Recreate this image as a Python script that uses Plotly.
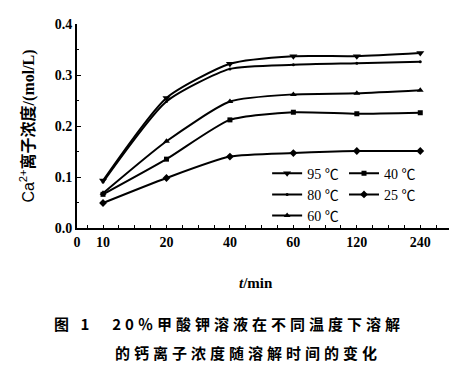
import plotly.graph_objects as go

time_labels = ["10", "20", "40", "60", "120", "240"]
x_pos = list(range(len(time_labels)))

c95 = [0.093, 0.255, 0.322, 0.337, 0.337, 0.343]
c80 = [0.090, 0.248, 0.312, 0.320, 0.323, 0.326]
c60 = [0.068, 0.170, 0.248, 0.262, 0.264, 0.270]
c40 = [0.066, 0.135, 0.212, 0.227, 0.224, 0.226]
c25 = [0.049, 0.098, 0.140, 0.147, 0.151, 0.151]

series = [
    ("95 ℃", c95, "triangle-down", 7, "legend"),
    ("80 ℃", c80, "circle", 3, "legend"),
    ("60 ℃", c60, "triangle-up", 6, "legend"),
    ("40 ℃", c40, "square", 5, "legend2"),
    ("25 ℃", c25, "diamond", 6, "legend2"),
]

serif = "Liberation Serif, Noto Sans CJK SC, serif"
fig = go.Figure()
for name, vals, sym, size, lg in series:
    fig.add_trace(go.Scatter(
        x=x_pos, y=vals, name=name, mode="lines+markers",
        line=dict(color="black", width=2, shape="spline", smoothing=0.6),
        marker=dict(symbol=sym, size=size, color="black"),
        legend=lg,
    ))

# page body has an 8px margin, so the figure is drawn 8px smaller and offset
fig.update_layout(
    width=449, height=365,
    margin=dict(l=69, r=5, t=16, b=145),
    paper_bgcolor="white", plot_bgcolor="white",
    font=dict(family=serif, color="black", size=13),
    legend=dict(x=0.507, y=0.345, xanchor="left", yanchor="top",
                bgcolor="rgba(0,0,0,0)", font=dict(size=14, family=serif),
                itemwidth=30, tracegroupgap=0),
    legend2=dict(x=0.712, y=0.345, xanchor="left", yanchor="top",
                 bgcolor="rgba(0,0,0,0)", font=dict(size=14, family=serif),
                 itemwidth=30, tracegroupgap=0),
)

fig.update_xaxes(
    range=[-0.41, 5.5],
    tickmode="array",
    tickvals=[-0.41] + x_pos,
    ticktext=["0"] + time_labels,
    ticks="inside", ticklen=3, tickwidth=1, tickcolor="black",
    minor=dict(ticks="inside", ticklen=3, dtick=0.25, tick0=0, tickcolor="black"),
    showline=True, linecolor="black", linewidth=2,
    showgrid=False, zeroline=False,
    tickfont=dict(family=serif, size=14, weight="bold"),
)
fig.update_yaxes(
    range=[0, 0.4],
    tickvals=[0, 0.1, 0.2, 0.3, 0.4],
    ticktext=["0.0", "0.1", "0.2", "0.3", "0.4"],
    ticks="inside", ticklen=4, tickwidth=1, tickcolor="black",
    minor=dict(ticks="inside", ticklen=2, dtick=0.05, tickcolor="black"),
    showline=True, linecolor="black", linewidth=2,
    showgrid=False, zeroline=False,
    tickfont=dict(family=serif, size=14, weight="bold"),
    title=dict(text="<span style='font-family:Liberation Sans;font-weight:normal'>Ca<sup>2+</sup></span>离子浓度/(mol/L)",
               font=dict(family=serif, size=16, weight="bold"), standoff=16),
)

fig.add_annotation(
    text="<i>t</i>/min",
    xref="paper", yref="paper", x=0.477, y=-0.27, xanchor="center", yanchor="middle",
    showarrow=False, font=dict(family=serif, size=15, weight="bold"),
)
cap_style = "letter-spacing:4px"
fig.add_annotation(
    text="<span style='%s'>图 1\u300020％甲酸钾溶液在不同温度下溶解</span>" % cap_style,
    xref="paper", yref="paper", x=0.404, y=-0.466, xanchor="center", yanchor="middle",
    showarrow=False, font=dict(family="Noto Sans CJK SC", size=15, color="black", weight="bold"),
)
fig.add_annotation(
    text="<span style='%s'>的钙离子浓度随溶解时间的变化</span>" % cap_style,
    xref="paper", yref="paper", x=0.455, y=-0.608, xanchor="center", yanchor="middle",
    showarrow=False, font=dict(family="Noto Sans CJK SC", size=15, color="black", weight="bold"),
)

fig.write_html("out.html")
